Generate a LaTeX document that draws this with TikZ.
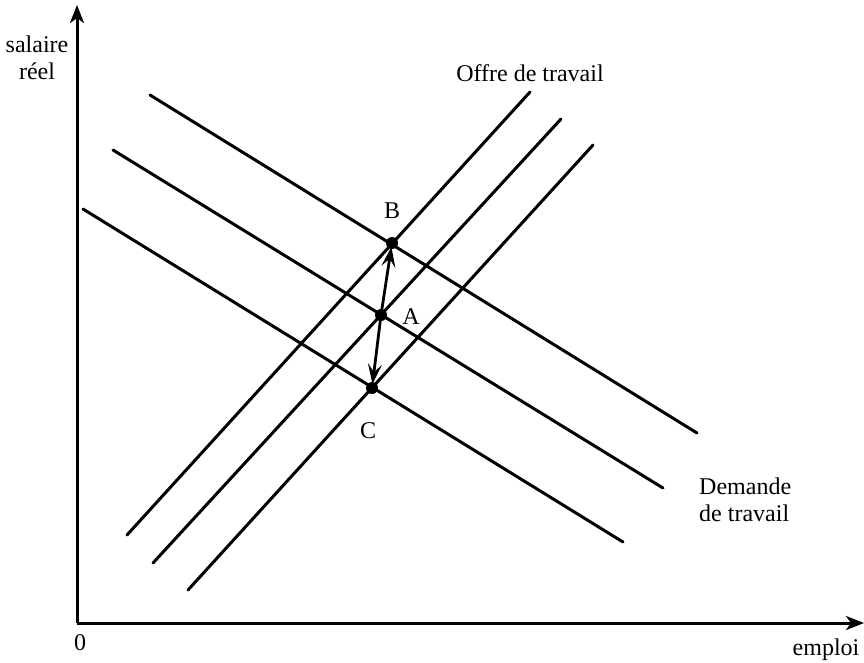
\documentclass[tikz,border=0pt]{standalone}
\usepackage{fontspec}
\setmainfont{Liberation Serif}
\usetikzlibrary{arrows.meta}
\begin{document}
\begin{tikzpicture}[x=1pt,y=-1pt,
  curve/.style={line width=3pt, line cap=round},
  axis/.style={line width=3pt, -{Stealth[length=18pt,width=14pt,inset=5pt]}},
  lbl/.style={font=\fontsize{24}{27}\selectfont, inner sep=0pt},
  dot/.style={circle, fill=black, inner sep=0pt, minimum size=12pt},
  move/.style={line width=2.8pt, -{Stealth[length=20pt,width=14pt,inset=8pt]}, shorten >=4pt}]
\useasboundingbox (0,0) rectangle (864,662);
% axes
\coordinate (O) at (77,623);
\coordinate (Ytop) at (77,5);
\coordinate (Xend) at (864,623);
\draw[axis] (O) -- (Ytop);
\draw[axis] (O) -- (Xend);
% demand curves
\coordinate (d1a) at (150,95);  \coordinate (d1b) at (697,433);
\coordinate (d2a) at (113,150); \coordinate (d2b) at (663,488);
\coordinate (d3a) at (83,209);  \coordinate (d3b) at (623,542);
\draw[curve] (d1a) -- (d1b);
\draw[curve] (d2a) -- (d2b);
\draw[curve] (d3a) -- (d3b);
% supply curves
\coordinate (s1a) at (127,535); \coordinate (s1b) at (530,92);
\coordinate (s2a) at (153,563); \coordinate (s2b) at (561,119);
\coordinate (s3a) at (188,590); \coordinate (s3b) at (593,145);
\draw[curve] (s1a) -- (s1b);
\draw[curve] (s2a) -- (s2b);
\draw[curve] (s3a) -- (s3b);
% points
\node[dot] (B) at (392,243) {};
\node[dot] (A) at (381,315) {};
\node[dot] (C) at (372,388) {};
\draw[move] (A.center) -- (B.center);
\draw[move] (A.center) -- (C.center);
% labels
\node[lbl] (lB) at (392,211) {B};
\node[lbl] (lA) at (411,317) {A};
\node[lbl] (lC) at (368,431) {C};
\node[lbl] (l0) at (80,643) {0};
\node[lbl] (lemp) at (826,650) {emploi};
\node[lbl, align=center] (lsal) at (37,58) {salaire\\réel};
\node[lbl] (loffre) at (530,73) {Offre de travail};
\node[lbl, align=left, anchor=north west] (ldem) at (699,478) {Demande\\de travail};
\end{tikzpicture}
\end{document}
